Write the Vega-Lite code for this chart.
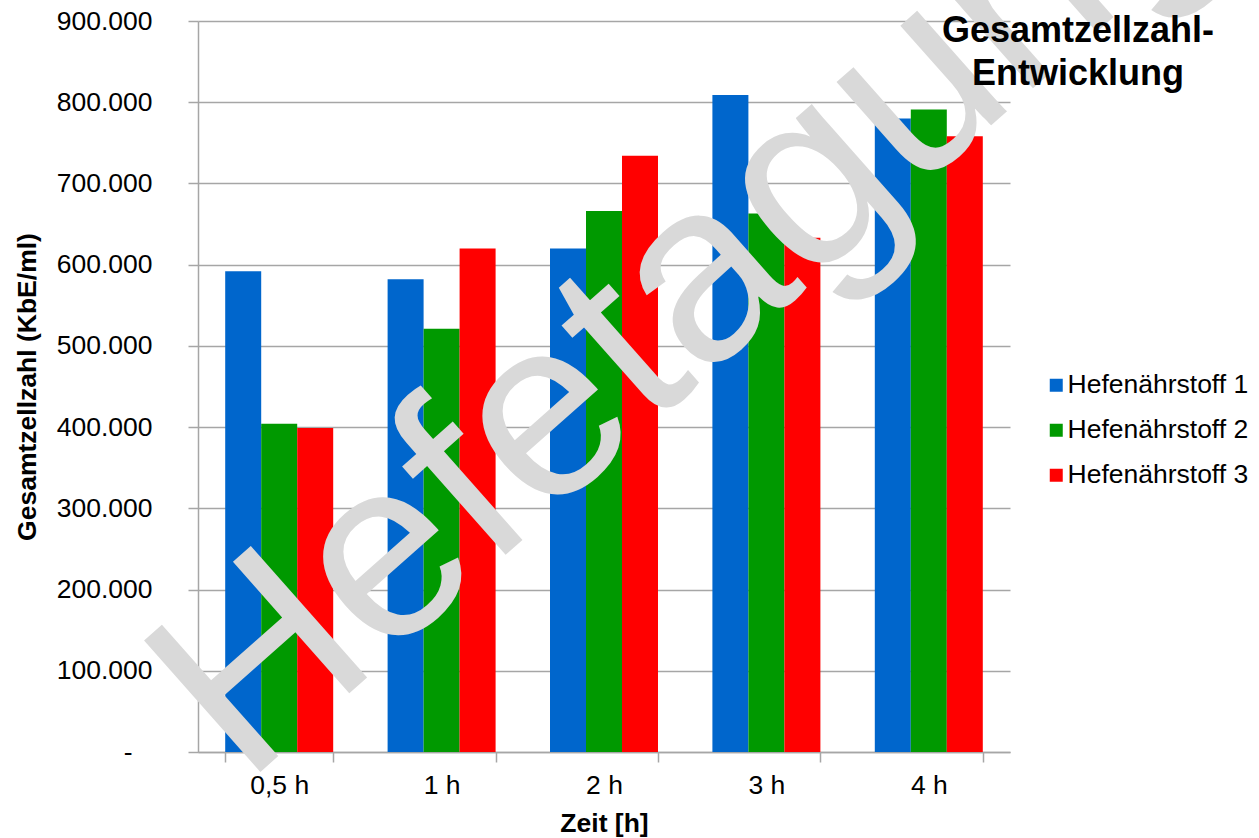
{
  "$schema": "https://vega.github.io/schema/vega-lite/v6.json",
  "width": 812,
  "height": 731,
  "autosize": {"type": "none"},
  "padding": {"left": 198, "top": 21, "right": 249, "bottom": 86},
  "background": "white",
  "config": {
    "locale": {"number": {"decimal": ",", "thousands": ".", "grouping": [3], "currency": ["", " €"]}},
    "view": {"stroke": null},
    "font": "Liberation Sans"
  },
  "title": {
    "text": ["Gesamtzellzahl-", "Entwicklung"],
    "orient": "none",
    "fontSize": 36,
    "fontWeight": "bold",
    "font": "Liberation Sans",
    "color": "#000000",
    "anchor": "middle",
    "align": "center",
    "dx": 880,
    "dy": -7,
    "baseline": "top",
    "lineHeight": 43
  },
  "datasets": {
    "bars": [
      {"Zeit": "0,5 h", "Serie": "Hefenährstoff 1", "Wert": 592000},
      {"Zeit": "0,5 h", "Serie": "Hefenährstoff 2", "Wert": 404000},
      {"Zeit": "0,5 h", "Serie": "Hefenährstoff 3", "Wert": 399000},
      {"Zeit": "1 h", "Serie": "Hefenährstoff 1", "Wert": 582000},
      {"Zeit": "1 h", "Serie": "Hefenährstoff 2", "Wert": 521000},
      {"Zeit": "1 h", "Serie": "Hefenährstoff 3", "Wert": 620000},
      {"Zeit": "2 h", "Serie": "Hefenährstoff 1", "Wert": 620000},
      {"Zeit": "2 h", "Serie": "Hefenährstoff 2", "Wert": 666000},
      {"Zeit": "2 h", "Serie": "Hefenährstoff 3", "Wert": 734000},
      {"Zeit": "3 h", "Serie": "Hefenährstoff 1", "Wert": 809000},
      {"Zeit": "3 h", "Serie": "Hefenährstoff 2", "Wert": 663000},
      {"Zeit": "3 h", "Serie": "Hefenährstoff 3", "Wert": 633000},
      {"Zeit": "4 h", "Serie": "Hefenährstoff 1", "Wert": 780000},
      {"Zeit": "4 h", "Serie": "Hefenährstoff 2", "Wert": 791000},
      {"Zeit": "4 h", "Serie": "Hefenährstoff 3", "Wert": 758000}
    ],
    "wm": [
      {"Zeit": "0,5 h", "Wert": -41700, "Text": "Hefetagung"}
    ]
  },
  "layer": [
    {
      "data": {"name": "bars"},
      "mark": {"type": "bar"},
      "encoding": {
        "x": {
          "field": "Zeit",
          "type": "nominal",
          "sort": ["0,5 h", "1 h", "2 h", "3 h", "4 h"],
          "scale": {"paddingInner": 0.335, "paddingOuter": 0.1675},
          "axis": {
            "title": "Zeit [h]",
            "titleFontSize": 26.5,
            "titleFontWeight": "bold",
            "titleColor": "#000000",
            "titlePadding": 12,
            "labelAngle": 0,
            "labelFontSize": 26.5,
            "labelColor": "#000000",
            "labelPadding": 10,
            "tickBand": "extent",
            "tickSize": 10,
            "tickColor": "#A6A6A6",
            "tickWidth": 1.5,
            "domainColor": "#A6A6A6",
            "domainWidth": 1.5,
            "grid": false
          }
        },
        "xOffset": {"field": "Serie", "type": "nominal"},
        "y": {
          "field": "Wert",
          "type": "quantitative",
          "scale": {"domain": [0, 900000], "nice": false},
          "axis": {
            "title": "Gesamtzellzahl (KbE/ml)",
            "titleFontSize": 26.5,
            "titleFontWeight": "bold",
            "titleColor": "#000000",
            "titlePadding": 15,
            "values": [0, 100000, 200000, 300000, 400000, 500000, 600000, 700000, 800000, 900000],
            "format": ",.0f",
            "labelExpr": "datum.value === 0 ? '-\u2800' : datum.label",
            "labelFontSize": 26.5,
            "labelColor": "#000000",
            "labelPadding": 36,
            "tickSize": 10,
            "tickColor": "#A6A6A6",
            "tickWidth": 1.5,
            "domainColor": "#A6A6A6",
            "domainWidth": 1.5,
            "grid": true,
            "gridColor": "#A6A6A6",
            "gridWidth": 1.5
          }
        },
        "color": {
          "field": "Serie",
          "type": "nominal",
          "scale": {
            "domain": ["Hefenährstoff 1", "Hefenährstoff 2", "Hefenährstoff 3"],
            "range": ["#0066CC", "#009900", "#FF0000"]
          },
          "legend": {
            "title": null,
            "orient": "none",
            "legendX": 845,
            "legendY": 351,
            "symbolType": "square",
            "symbolSize": 169,
            "symbolStrokeWidth": 0,
            "labelFontSize": 26.5,
            "labelColor": "#000000",
            "labelOffset": -2,
            "labelLimit": 0,
            "rowPadding": 18
          }
        }
      }
    },
    {
      "data": {"name": "wm"},
      "mark": {
        "type": "text",
        "angle": -41.5,
        "fontSize": 255,
        "align": "left",
        "baseline": "alphabetic",
        "color": "#D9D9D9",
        "font": "Liberation Sans"
      },
      "encoding": {
        "x": {"field": "Zeit", "type": "nominal", "sort": ["0,5 h", "1 h", "2 h", "3 h", "4 h"], "bandPosition": 0.18},
        "y": {"field": "Wert", "type": "quantitative"},
        "text": {"field": "Text"}
      }
    }
  ]
}
